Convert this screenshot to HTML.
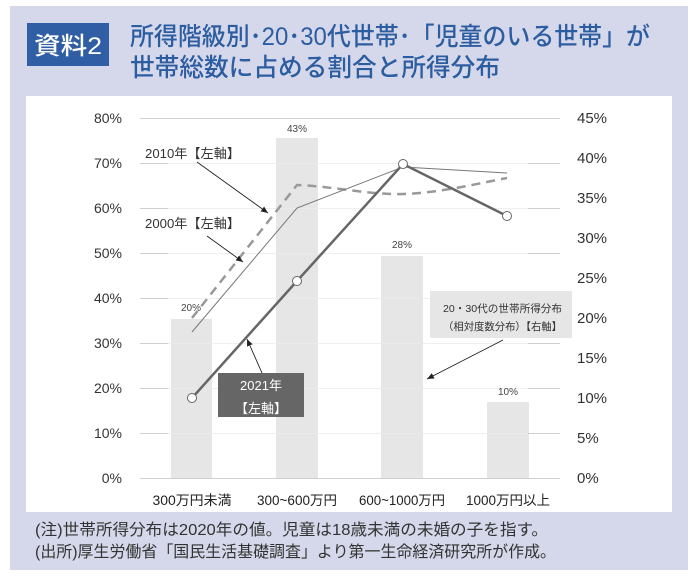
<!DOCTYPE html>
<html><head><meta charset="utf-8"><style>
html,body{margin:0;padding:0;background:#fff;}
svg{display:block;}
text{font-family:"Liberation Sans","Noto Sans CJK JP",sans-serif;}
</style></head><body>
<svg width="696" height="577" viewBox="0 0 696 577" xmlns="http://www.w3.org/2000/svg">
<defs>
<marker id="ah" markerWidth="8" markerHeight="8" refX="7" refY="4" orient="auto" markerUnits="userSpaceOnUse">
<path d="M0,1 L7,4 L0,7 Z" fill="#222"/>
</marker>
</defs>
<rect x="0" y="0" width="696" height="577" fill="#fff"/>
<rect x="10" y="6" width="678" height="564" fill="#d5d8ea"/>
<rect x="27" y="23" width="82" height="43" fill="#2f5ea5"/>
<text x="68" y="54" font-size="24" font-weight="500" fill="#fff" text-anchor="middle" textLength="68" lengthAdjust="spacingAndGlyphs">資料2</text>
<text x="130" y="45" font-size="25" font-weight="500" fill="#2d5da1" textLength="520" lengthAdjust="spacingAndGlyphs">所得階級別･20･30代世帯･「児童のいる世帯」が</text>
<text x="130" y="76" font-size="25" font-weight="500" fill="#2d5da1" textLength="370" lengthAdjust="spacingAndGlyphs">世帯総数に占める割合と所得分布</text>
<rect x="26" y="96" width="646" height="416" fill="#fff"/>

<!-- bars -->
<g fill="#e6e6e6">
<rect x="171" y="319" width="41" height="159"/>
<rect x="276" y="138" width="42" height="340"/>
<rect x="381" y="256" width="42" height="222"/>
<rect x="487" y="402" width="42" height="76"/>
</g>

<!-- gridlines -->
<g stroke-width="1">
<line x1="140" y1="118.5" x2="560" y2="118.5" stroke="#cfcfcf"/>
<line x1="140" y1="478.5" x2="560" y2="478.5" stroke="#cfcfcf"/>
<g stroke="#cfcfcf">
<line x1="140" y1="163.5" x2="168" y2="163.5"/><line x1="528" y1="163.5" x2="560" y2="163.5"/>
<line x1="140" y1="208.5" x2="168" y2="208.5"/><line x1="528" y1="208.5" x2="560" y2="208.5"/>
<line x1="140" y1="253.5" x2="168" y2="253.5"/><line x1="528" y1="253.5" x2="560" y2="253.5"/>
<line x1="140" y1="298.5" x2="168" y2="298.5"/><line x1="528" y1="298.5" x2="560" y2="298.5"/>
<line x1="140" y1="343.5" x2="168" y2="343.5"/><line x1="528" y1="343.5" x2="560" y2="343.5"/>
<line x1="140" y1="388.5" x2="168" y2="388.5"/><line x1="528" y1="388.5" x2="560" y2="388.5"/>
<line x1="140" y1="433.5" x2="168" y2="433.5"/><line x1="528" y1="433.5" x2="560" y2="433.5"/>
</g>
<g stroke="#ececec" opacity="0.8">
<line x1="168" y1="163.5" x2="528" y2="163.5"/>
<line x1="168" y1="208.5" x2="528" y2="208.5"/>
<line x1="168" y1="253.5" x2="528" y2="253.5"/>
<line x1="168" y1="298.5" x2="528" y2="298.5"/>
<line x1="168" y1="343.5" x2="528" y2="343.5"/>
<line x1="168" y1="388.5" x2="528" y2="388.5"/>
<line x1="168" y1="433.5" x2="528" y2="433.5"/>
</g>
</g>

<!-- left axis -->
<g font-size="14" fill="#333" text-anchor="end">
<text x="122" y="123">80%</text>
<text x="122" y="168">70%</text>
<text x="122" y="213">60%</text>
<text x="122" y="258">50%</text>
<text x="122" y="303">40%</text>
<text x="122" y="348">30%</text>
<text x="122" y="393">20%</text>
<text x="122" y="438">10%</text>
<text x="122" y="483">0%</text>
</g>
<!-- right axis -->
<g font-size="15" fill="#333">
<text x="577" y="123">45%</text>
<text x="577" y="163">40%</text>
<text x="577" y="203">35%</text>
<text x="577" y="243">30%</text>
<text x="577" y="283">25%</text>
<text x="577" y="323">20%</text>
<text x="577" y="363">15%</text>
<text x="577" y="403">10%</text>
<text x="577" y="443">5%</text>
<text x="577" y="483">0%</text>
</g>

<!-- category labels -->
<g font-size="13.5" fill="#222" text-anchor="middle">
<text x="192" y="505" textLength="79" lengthAdjust="spacingAndGlyphs">300万円未満</text>
<text x="297" y="505" textLength="80" lengthAdjust="spacingAndGlyphs">300~600万円</text>
<text x="402" y="505" textLength="86" lengthAdjust="spacingAndGlyphs">600~1000万円</text>
<text x="508" y="505" textLength="84" lengthAdjust="spacingAndGlyphs">1000万円以上</text>
</g>

<!-- bar labels -->
<g font-size="10" fill="#444" text-anchor="middle">
<text x="191" y="311">20%</text>
<text x="297" y="132">43%</text>
<text x="402" y="248">28%</text>
<text x="508" y="395">10%</text>
</g>

<!-- lines -->
<path d="M192,318 L297,185 C330,186 370,195 403,194 C440,193 480,183 507,178" fill="none" stroke="#999" stroke-width="2.5" stroke-dasharray="9,6"/>
<polyline points="192,332 297,208 403,167 507,173" fill="none" stroke="#777" stroke-width="1"/>
<polyline points="192,398 297,281 403,164 507,216" fill="none" stroke="#666" stroke-width="2.5"/>
<g fill="#fff" stroke="#666" stroke-width="1">
<circle cx="192" cy="398" r="4.5"/>
<circle cx="297" cy="281" r="4.5"/>
<circle cx="403" cy="164" r="4.5"/>
<circle cx="507" cy="216" r="4.5"/>
</g>

<!-- annotations -->
<g font-size="13" fill="#333">
<text x="145" y="158" textLength="95" lengthAdjust="spacingAndGlyphs">2010年【左軸】</text>
<text x="145" y="228" textLength="95" lengthAdjust="spacingAndGlyphs">2000年【左軸】</text>
</g>
<g stroke="#222" stroke-width="0.9" marker-end="url(#ah)">
<line x1="197" y1="162" x2="268" y2="213"/>
<line x1="207" y1="236" x2="243" y2="262"/>
<line x1="262" y1="373" x2="247" y2="339"/>
<line x1="503" y1="340" x2="427" y2="379"/>
</g>

<rect x="218" y="373" width="86" height="44" fill="#666"/>
<g font-size="13" fill="#fff" text-anchor="middle">
<text x="261" y="390">2021年</text>
<text x="261" y="413">【左軸】</text>
</g>

<rect x="430" y="291" width="142" height="47" fill="#e6e6e6"/>
<g font-size="10.5" fill="#333">
<text x="443" y="312" textLength="119" lengthAdjust="spacingAndGlyphs">20・30代の世帯所得分布</text>
<text x="443" y="330" textLength="119" lengthAdjust="spacingAndGlyphs">（相対度数分布）【右軸】</text>
</g>

<!-- notes -->
<g font-size="16" fill="#333">
<text x="35" y="535" textLength="513" lengthAdjust="spacingAndGlyphs">(注)世帯所得分布は2020年の値。児童は18歳未満の未婚の子を指す。</text>
<text x="35" y="557" textLength="521" lengthAdjust="spacingAndGlyphs">(出所)厚生労働省「国民生活基礎調査」より第一生命経済研究所が作成。</text>
</g>
</svg>
</body></html>
